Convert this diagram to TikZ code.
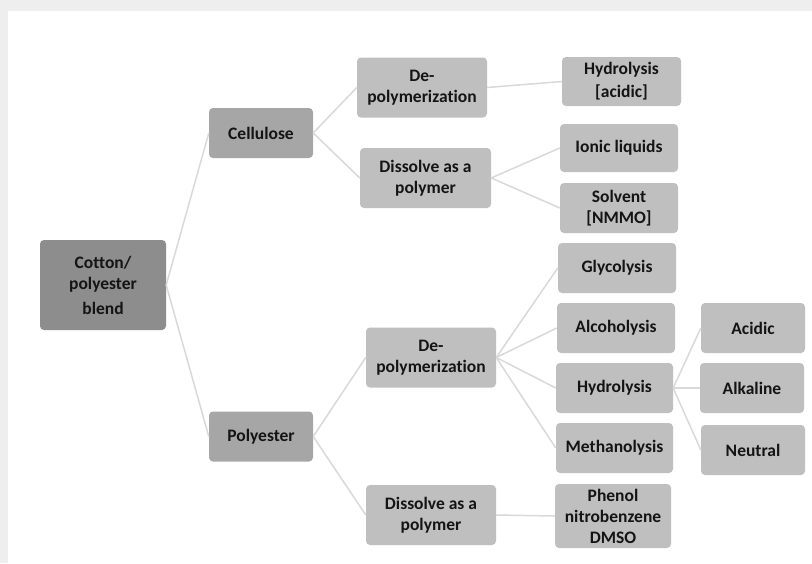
\documentclass[tikz,border=0pt]{standalone}
\usepackage{fontspec}
\setmainfont{Carlito}[Ligatures={NoCommon}]
\usepackage{tikz}
\usetikzlibrary{positioning}
\definecolor{pagecolor}{RGB}{238, 238, 238}
\definecolor{rootcolor}{RGB}{141, 141, 141}
\definecolor{fibrecolor}{RGB}{166, 166, 166}
\definecolor{leafcolor}{RGB}{191, 191, 191}
\definecolor{linkcolor}{RGB}{217, 217, 217}
\definecolor{textcolor}{RGB}{20, 20, 20}
\tikzset{
    font=\fontsize{17.5}{21}\selectfont\bfseries,
    box/.style = {
        rectangle, rounded corners=4pt, align=center, inner sep=2pt,
        text=textcolor, draw=none
    },
    rootbox/.style = {box, fill=rootcolor, minimum width=126pt, minimum height=90pt},
    fibrebox/.style = {box, fill=fibrecolor, minimum width=104pt, minimum height=50pt},
    routebox/.style = {box, fill=leafcolor, minimum width=130pt, minimum height=60pt},
    methodbox/.style = {box, fill=leafcolor, minimum width=118pt, minimum height=50pt},
    condbox/.style = {box, fill=leafcolor, minimum width=104pt, minimum height=50pt},
    link/.style = {draw=linkcolor, line width=1.5pt}
}
\begin{document}
\begin{tikzpicture}[x=1pt, y=-1pt]
% Page
\fill[pagecolor] (0,0) rectangle (812,563);
\fill[white] (8,11) rectangle (812,563);
\useasboundingbox (0,0) rectangle (812,563);
% Nodes
\node[rootbox] (blend) at (103,285) {Cotton/\\polyester\\[4pt]blend};
\node[fibrebox] (cell) at (261,133) {Cellulose};
\node[fibrebox] (poly) at (261,436.5) {Polyester};
\node[routebox] (cdepol) at (422,87.5) {De-\\polymerization};
\node[routebox, minimum width=131pt] (cdiss) at (425.5,178) {Dissolve as a\\polymer};
\node[routebox] (pdepol) at (431,357.5) {De-\\polymerization};
\node[routebox] (pdiss) at (431,515) {Dissolve as a\\polymer};
\node[methodbox, minimum width=119pt, minimum height=49pt] (acidhyd) at (621.5,81.5) {Hydrolysis\\[2pt]{[acidic]}};
\node[methodbox, minimum height=48pt] (ionic) at (619,148) {Ionic liquids};
\node[methodbox] (nmmo) at (619,208) {Solvent\\{[NMMO]}};
\node[methodbox] (glyco) at (617,268) {Glycolysis};
\node[methodbox] (alco) at (616,328) {Alcoholysis};
\node[methodbox, minimum width=117pt] (hydro) at (614.5,388) {Hydrolysis};
\node[methodbox, minimum width=117pt] (metha) at (614.5,448) {Methanolysis};
\node[methodbox, minimum width=116pt, minimum height=64pt] (phenol) at (613,516) {Phenol\\nitrobenzene\\DMSO};
\node[condbox] (acidic) at (753,328) {Acidic};
\node[condbox] (alkal) at (752,388) {Alkaline};
\node[condbox] (neutral) at (753,450) {Neutral};
% Links
\draw[link] (blend.east) -- (cell.west);
\draw[link] (blend.east) -- (poly.west);
\draw[link] (cell.east) -- (cdepol.west);
\draw[link] (cell.east) -- (cdiss.west);
\draw[link] (poly.east) -- (pdepol.west);
\draw[link] (poly.east) -- (pdiss.west);
\draw[link] (cdepol.east) -- (acidhyd.west);
\draw[link] (cdiss.east) -- (ionic.west);
\draw[link] (cdiss.east) -- (nmmo.west);
\draw[link] (pdepol.east) -- (glyco.west);
\draw[link] (pdepol.east) -- (alco.west);
\draw[link] (pdepol.east) -- (hydro.west);
\draw[link] (pdepol.east) -- (metha.west);
\draw[link] (pdiss.east) -- (phenol.west);
\draw[link] (hydro.east) -- (acidic.west);
\draw[link] (hydro.east) -- (alkal.west);
\draw[link] (hydro.east) -- (neutral.west);
\end{tikzpicture}
\end{document}
